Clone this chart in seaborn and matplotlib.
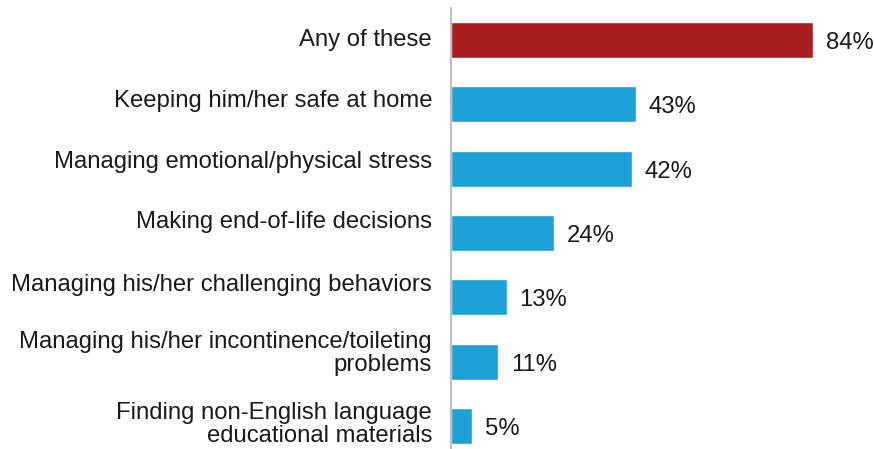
import matplotlib
matplotlib.use("Agg")
import matplotlib.pyplot as plt
import seaborn as sns
import pandas as pd

categories = [
    "Any of these",
    "Keeping him/her safe at home",
    "Managing emotional/physical stress",
    "Making end-of-life decisions",
    "Managing his/her challenging behaviors",
    "Managing his/her incontinence/toileting\nproblems",
    "Finding non-English language\neducational materials",
]
values = [84, 43, 42, 24, 13, 11, 5]
bar_colors = ["#A81E1E"] + ["#1EA0D9"] * 6

# vertical nudge (pixels, upward) of each category label relative to its bar
label_nudge = [-0.5, 3.5, 7, 11, 12.5, 8.5, 1.5]

df = pd.DataFrame({"category": categories, "value": values})

sns.set_theme(style="white")
plt.rcParams["font.family"] = ["Liberation Sans", "DejaVu Sans"]

fig = plt.figure(figsize=(8.74, 4.49), dpi=100)
ax = fig.add_axes([450.5 / 874, 0.0, 409.5 / 874, 441 / 449])

sns.barplot(data=df, x="value", y="category", hue="category",
            palette=bar_colors, legend=False, width=0.56,
            saturation=1, ax=ax, orient="h")

ax.set_xlim(0, 95)
ax.set_ylim(6.357, -0.497)

text_color = "#1a1a1a"
fs = 17.2

# value labels at the end of each bar
for i, v in enumerate(values):
    ax.annotate(f"{v}%", xy=(v, i), xytext=(13, -3),
                textcoords="offset pixels",
                va="center", ha="left", fontsize=fs, color=text_color)

# category labels to the left of the axis line
ylab_trans = ax.get_yaxis_transform()
for i, (cat, dy) in enumerate(zip(categories, label_nudge)):
    ax.annotate(cat, xy=(0, i), xycoords=ylab_trans,
                xytext=(-18.5, dy), textcoords="offset pixels",
                va="center", ha="right", multialignment="right",
                linespacing=1.05, fontsize=fs, color=text_color,
                annotation_clip=False)

ax.set_xlabel("")
ax.set_ylabel("")
ax.set_xticks([])
ax.set_yticks([])

for side in ["top", "right", "bottom"]:
    ax.spines[side].set_visible(False)
ax.spines["left"].set_color("#b3b3b3")
ax.spines["left"].set_linewidth(1.2)

fig.savefig("out.png", dpi=100)
